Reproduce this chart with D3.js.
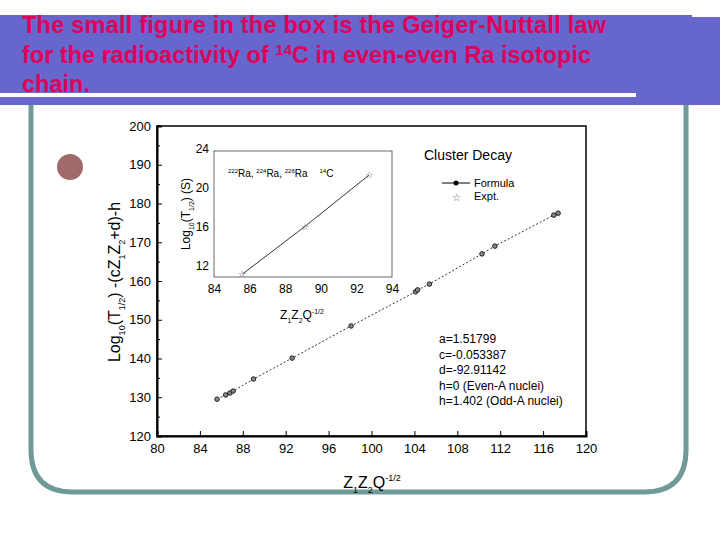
<!DOCTYPE html>
<html><head><meta charset="utf-8">
<script src="https://cdn.jsdelivr.net/npm/d3@7"></script>
<style>body{margin:0;background:#fff}text{font-family:"Liberation Sans",Arial,sans-serif}</style>
</head><body>
<svg id="chart" width="720" height="540"></svg>
<script>
/*main chart data: Z1Z2Q^-1/2 vs corrected log half-life*/
const mainX = [85.6, 86.4, 86.8, 87.1, 89.0, 92.6, 98.1, 104.1, 104.3, 105.4, 110.3, 111.5, 117.0, 117.4];
const mainY = [129.5, 130.6, 131.1, 131.6, 134.7, 140.1, 148.4, 157.2, 157.7, 159.2, 167.0, 169.0, 177.0, 177.5];
const mainXTicks = [80, 84, 88, 92, 96, 100, 104, 108, 112, 116, 120];
const mainYTicks = [120, 130, 140, 150, 160, 170, 180, 190, 200];
/*inset: 14C from 222,224,226Ra*/
const insetX = [85.6, 89.1, 92.7];
const insetY = [11.1, 16.0, 21.3];
const insetXTicks = [84, 86, 88, 90, 92, 94];
const insetYTicks = [12, 16, 20, 24];
const params = ["a=1.51799", "c=-0.053387", "d=-92.91142", "h=0 (Even-A nuclei)", "h=1.402 (Odd-A nuclei)"];

const svg = d3.select("#chart");

/*slide decoration*/
svg.append("rect").attr("x", 0).attr("y", 15).attr("width", 692).attr("height", 90).attr("fill", "#6666cc");
svg.append("rect").attr("x", 692).attr("y", 17).attr("width", 28).attr("height", 88).attr("fill", "#6666cc");
svg.append("rect").attr("x", 0).attr("y", 93).attr("width", 636).attr("height", 4).attr("fill", "#fff");
svg.append("path")
    .attr("d", "M31,105 L31,450 Q31,492 73,492 L644,492 Q686,492 686,450 L686,105")
    .attr("fill", "none").attr("stroke", "#6f9a98").attr("stroke-width", 5);
svg.append("circle").attr("cx", 70).attr("cy", 167).attr("r", 13).attr("fill", "#a06a6a");

const title = svg.append("text").attr("fill", "#e0005a").style("font-weight", "bold").style("font-size", "23.5px");
title.append("tspan").attr("x", 22).attr("y", 33).attr("textLength", 584).text("The small figure in the box is the Geiger-Nuttall law");
const t2 = title.append("tspan").attr("x", 22).attr("y", 63);
t2.append("tspan").text("for the radioactivity of ");
t2.append("tspan").attr("dy", -8).style("font-size", "15px").text("14");
t2.append("tspan").attr("dy", 8).text("C in even-even Ra isotopic");
title.append("tspan").attr("x", 22).attr("y", 92).text("chain.");

/*main chart*/
const x = d3.scaleLinear().domain([80, 120]).range([157, 586]);
const y = d3.scaleLinear().domain([120, 200]).range([436, 126]);
const main = svg.append("g");
main.append("rect").attr("x", 157).attr("y", 126).attr("width", 429).attr("height", 310)
    .attr("fill", "#fff").attr("stroke", "#000").attr("stroke-width", 1.5);
main.append("g").attr("transform", "translate(0,436)")
    .call(d3.axisBottom(x).tickValues(mainXTicks).tickSize(-5).tickPadding(8))
    .call(g => g.select(".domain").attr("stroke-width", 2))
    .selectAll("text").style("font-size", "13px").attr("font-family", "Liberation Sans");
main.append("g").attr("transform", "translate(157,0)")
    .call(d3.axisLeft(y).tickValues(mainYTicks).tickSize(-5).tickPadding(6).tickFormat(d => d))
    .call(g => g.select(".domain").attr("stroke-width", 2))
    .selectAll("text").style("font-size", "13px").attr("font-family", "Liberation Sans");
main.append("g").attr("transform", "translate(157,0)")
    .call(d3.axisLeft(y).tickValues(d3.range(125, 200, 10)).tickSize(-3).tickFormat(""))
    .call(g => g.select(".domain").remove());
main.append("path").datum(mainX.map((d, i) => [d, mainY[i]]))
    .attr("d", d3.line().x(d => x(d[0])).y(d => y(d[1])))
    .attr("fill", "none").attr("stroke", "#000").attr("stroke-width", 0.8).attr("stroke-dasharray", "2,2");
main.selectAll(".pt").data(mainX).enter().append("circle")
    .attr("cx", d => x(d)).attr("cy", (d, i) => y(mainY[i])).attr("r", 2.3)
    .attr("fill", "#888").attr("stroke", "#000").attr("stroke-width", 0.8);

svg.append("text").attr("x", 424).attr("y", 160).style("font-size", "14px").text("Cluster Decay");
svg.append("line").attr("x1", 442).attr("x2", 470).attr("y1", 183).attr("y2", 183).attr("stroke", "#000");
svg.append("circle").attr("cx", 456).attr("cy", 183).attr("r", 2.5);
svg.append("text").attr("x", 474).attr("y", 187).style("font-size", "11px").text("Formula");
svg.append("text").attr("x", 452).attr("y", 201).style("font-size", "10px").attr("fill", "#555").text("☆");
svg.append("text").attr("x", 474).attr("y", 200).style("font-size", "11px").text("Expt.");
svg.append("g").selectAll("text").data(params).enter().append("text")
    .attr("x", 439).attr("y", (d, i) => 343 + i * 15.5).style("font-size", "12px").text(d => d);

/*axis titles*/
const ylab = svg.append("text").attr("transform", "translate(120,282) rotate(-90)")
    .attr("text-anchor", "middle").style("font-size", "16px");
ylab.append("tspan").text("Log");
ylab.append("tspan").attr("dy", 5).style("font-size", "9px").text("10");
ylab.append("tspan").attr("dy", -5).text("(T");
ylab.append("tspan").attr("dy", 5).style("font-size", "9px").text("1/2");
ylab.append("tspan").attr("dy", -5).text(") -(cZ");
ylab.append("tspan").attr("dy", 5).style("font-size", "9px").text("1");
ylab.append("tspan").attr("dy", -5).text("Z");
ylab.append("tspan").attr("dy", 5).style("font-size", "9px").text("2");
ylab.append("tspan").attr("dy", -5).text("+d)-h");
const xlab = svg.append("text").attr("x", 372).attr("y", 488).attr("text-anchor", "middle").style("font-size", "16px");
xlab.append("tspan").text("Z");
xlab.append("tspan").attr("dy", 5).style("font-size", "9px").text("1");
xlab.append("tspan").attr("dy", -5).text("Z");
xlab.append("tspan").attr("dy", 5).style("font-size", "9px").text("2");
xlab.append("tspan").attr("dy", -5).text("Q");
xlab.append("tspan").attr("dy", -7).style("font-size", "9px").text("-1/2");

/*inset*/
const ix = d3.scaleLinear().domain([84, 94]).range([214, 392]);
const iy = d3.scaleLinear().domain([10.8, 24]).range([277, 149]);
const inset = svg.append("g");
inset.append("rect").attr("x", 214).attr("y", 151).attr("width", 178).attr("height", 126)
    .attr("fill", "#fff").attr("stroke", "#444").attr("stroke-width", 0.8);
inset.append("g").attr("transform", "translate(0,277)")
    .call(d3.axisBottom(ix).tickValues(insetXTicks).tickSize(0).tickPadding(7))
    .call(g => g.select(".domain").remove())
    .selectAll("text").style("font-size", "12px").attr("font-family", "Liberation Sans");
inset.append("g").attr("transform", "translate(214,0)")
    .call(d3.axisLeft(iy).tickValues(insetYTicks).tickSize(0).tickPadding(5))
    .call(g => g.select(".domain").remove())
    .selectAll("text").style("font-size", "12px").attr("font-family", "Liberation Sans");
inset.append("path").datum(insetX.map((d, i) => [d, insetY[i]]))
    .attr("d", d3.line().x(d => ix(d[0])).y(d => iy(d[1])))
    .attr("fill", "none").attr("stroke", "#000").attr("stroke-width", 0.8);
inset.selectAll(".st").data(insetX).enter().append("text")
    .attr("x", d => ix(d)).attr("y", (d, i) => iy(insetY[i]) + 3).attr("text-anchor", "middle")
    .style("font-size", "9px").attr("fill", "#555").text("☆");
const iso = inset.append("text").attr("x", 228).attr("y", 177).style("font-size", "10px");
[["222", "Ra, "], ["224", "Ra, "], ["226", "Ra"]].forEach(p => {
    iso.append("tspan").attr("dy", -4).style("font-size", "6px").text(p[0]);
    iso.append("tspan").attr("dy", 4).text(p[1]);
});
iso.append("tspan").attr("dy", -4).attr("dx", 12).style("font-size", "6px").text("14");
iso.append("tspan").attr("dy", 4).text("C");
const ily = inset.append("text").attr("transform", "translate(190,214) rotate(-90)")
    .attr("text-anchor", "middle").style("font-size", "12px");
ily.append("tspan").text("Log");
ily.append("tspan").attr("dy", 4).style("font-size", "7px").text("10");
ily.append("tspan").attr("dy", -4).text("(T");
ily.append("tspan").attr("dy", 4).style("font-size", "7px").text("1/2");
ily.append("tspan").attr("dy", -4).text(")  (S)");
const ilx = inset.append("text").attr("x", 302).attr("y", 319).attr("text-anchor", "middle").style("font-size", "12px");
ilx.append("tspan").text("Z");
ilx.append("tspan").attr("dy", 4).style("font-size", "7px").text("1");
ilx.append("tspan").attr("dy", -4).text("Z");
ilx.append("tspan").attr("dy", 4).style("font-size", "7px").text("2");
ilx.append("tspan").attr("dy", -4).text("Q");
ilx.append("tspan").attr("dy", -5).style("font-size", "7px").text("-1/2");
</script>
</body></html>
